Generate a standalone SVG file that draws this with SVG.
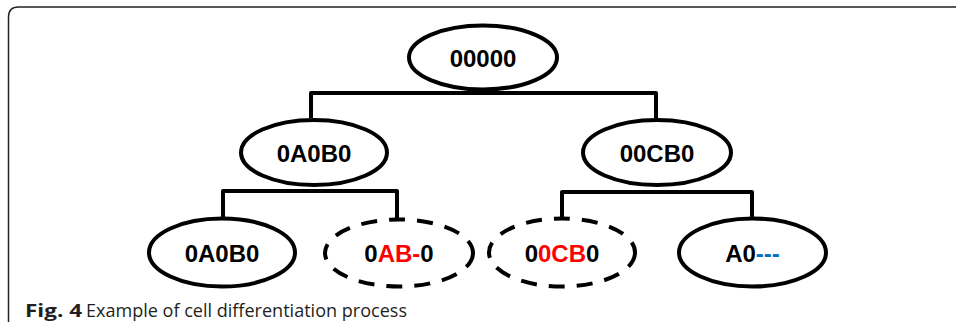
<svg xmlns="http://www.w3.org/2000/svg" width="956" height="330" viewBox="0 0 956 330">
<style>
.node{fill:#fff;stroke:#000;stroke-width:4}
.dash{stroke-dasharray:16 12}
.lbl{font-family:"Liberation Sans",Arial,sans-serif;font-weight:bold;font-size:24px;text-anchor:middle;fill:#000}
.r{fill:#ff0000}
.b{fill:#0070c0}
.conn{fill:none;stroke:#000;stroke-width:4;stroke-linejoin:round}
.cap{font-family:"Open Sans","Noto Sans",sans-serif;font-size:18px;fill:#231f20}
</style>
<rect width="956" height="330" fill="#fff"/>
<path d="M8.5,322 V17 Q8.5,7 18.5,7 H956" fill="none" stroke="#222" stroke-width="1.5"/>
<g id="connectors">
<path class="conn" d="M311,118 V93 H656 V118"/>
<path class="conn" d="M223,218 V191 H397 V220"/>
<path class="conn" d="M562,218 V192 H752 V218"/>
</g>
<g id="n00000">
<ellipse class="node" cx="483" cy="57.5" rx="74" ry="32"/>
<text class="lbl" x="483" y="67">00000</text>
</g>
<g id="n0A0B0_l2">
<ellipse class="node" cx="314" cy="152.5" rx="73" ry="32.5"/>
<text class="lbl" x="314" y="162">0A0B0</text>
</g>
<g id="n00CB0_l2">
<ellipse class="node" cx="657" cy="152.5" rx="74" ry="32.5"/>
<text class="lbl" x="657" y="162">00CB0</text>
</g>
<g id="n0A0B0_l3">
<ellipse class="node" cx="222" cy="252.5" rx="73" ry="34"/>
<text class="lbl" x="222" y="262">0A0B0</text>
</g>
<g id="n0AB-0">
<ellipse class="node dash" cx="399" cy="253" rx="74" ry="33.5"/>
<text class="lbl" x="399" y="262">0<tspan class="r">AB-</tspan>0</text>
</g>
<g id="n00CB0_l3">
<ellipse class="node dash" cx="562" cy="252.5" rx="73" ry="34"/>
<text class="lbl" x="562" y="262">0<tspan class="r">0CB</tspan>0</text>
</g>
<g id="nA0">
<ellipse class="node" cx="752.5" cy="252.5" rx="73.5" ry="34"/>
<text class="lbl" x="752.5" y="262">A0<tspan class="b">---</tspan></text>
</g>
<text class="cap" x="25" y="317"><tspan font-weight="bold" textLength="57" lengthAdjust="spacingAndGlyphs">Fig. 4</tspan><tspan x="86" textLength="321" lengthAdjust="spacingAndGlyphs">Example of cell differentiation process</tspan></text>
</svg>
